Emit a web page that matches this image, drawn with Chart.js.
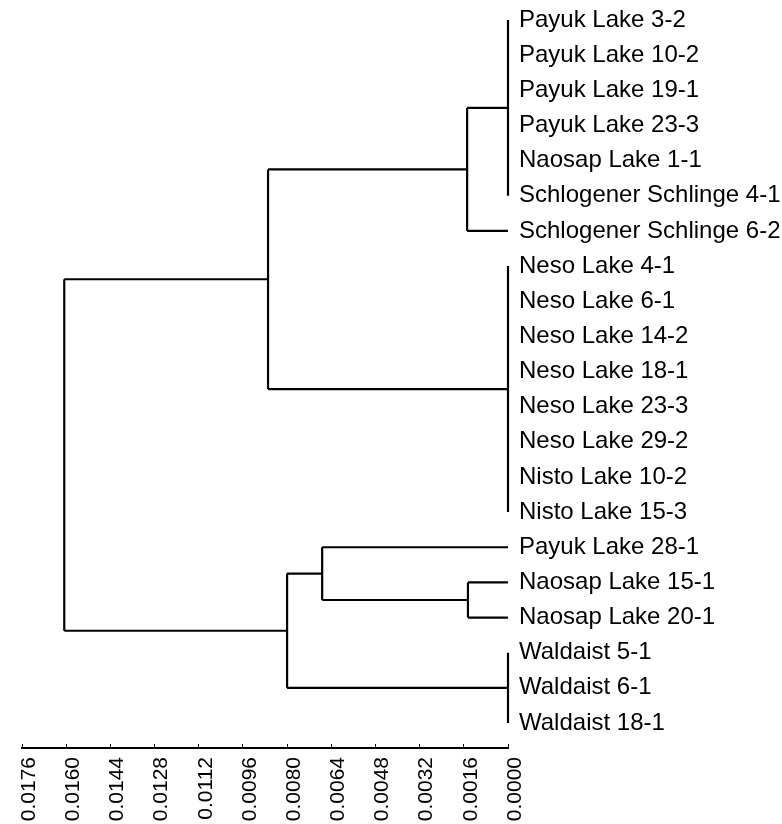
<!DOCTYPE html>
<html>
<head>
<meta charset="utf-8">
<script src="https://cdn.jsdelivr.net/npm/chart.js@4.4.1/dist/chart.umd.min.js"></script>
<style>
  html, body { margin: 0; padding: 0; background: #fff; }
  #wrap { width: 782px; height: 824px; }
</style>
</head>
<body>
<div id="wrap"><canvas id="dendro"></canvas></div>
<script>
// leaves in the order they are drawn, top to bottom
const leafNames = [
    'Payuk Lake 3-2', 'Payuk Lake 10-2', 'Payuk Lake 19-1', 'Payuk Lake 23-3',
    'Naosap Lake 1-1', 'Schlogener Schlinge 4-1', 'Schlogener Schlinge 6-2',
    'Neso Lake 4-1', 'Neso Lake 6-1', 'Neso Lake 14-2', 'Neso Lake 18-1',
    'Neso Lake 23-3', 'Neso Lake 29-2', 'Nisto Lake 10-2', 'Nisto Lake 15-3',
    'Payuk Lake 28-1', 'Naosap Lake 15-1', 'Naosap Lake 20-1',
    'Waldaist 5-1', 'Waldaist 6-1', 'Waldaist 18-1'
];

// merges: children refer to leaves (0..20) or earlier merges (21, 22, ...)
const mergeChildren = [
    [0, 1, 2, 3, 4, 5],
    [21, 6],
    [7, 8, 9, 10, 11, 12, 13, 14],
    [22, 23],
    [16, 17],
    [15, 25],
    [18, 19, 20],
    [26, 27],
    [24, 28]
];
const mergeHeights = [0, 0.00148, 0, 0.00869, 0.00145, 0.00673, 0, 0.00800, 0.01607];

const tickValues = [0.0176, 0.0160, 0.0144, 0.0128, 0.0112, 0.0096, 0.0080,
                    0.0064, 0.0048, 0.0032, 0.0016, 0.0000];

// build line segments of the tree
const nodeY = leafNames.map((_, i) => i);
const nodeH = leafNames.map(() => 0);
const segments = [];
mergeChildren.forEach((kids, m) => {
    const h = mergeHeights[m];
    const ys = kids.map(k => nodeY[k]);
    const lo = Math.min(...ys), hi = Math.max(...ys);
    segments.push([{ x: h, y: lo }, { x: h, y: hi }]);
    kids.forEach(k => {
        if (nodeH[k] !== h) segments.push([{ x: h, y: nodeY[k] }, { x: nodeH[k], y: nodeY[k] }]);
    });
    nodeY.push((lo + hi) / 2);
    nodeH.push(h);
});

Chart.defaults.color = '#000';
Chart.defaults.font.family = "'Liberation Sans', Arial, sans-serif";

// no automatic padding for the outer tick labels
const noPad = sc => {
    sc.paddingTop = 0; sc.paddingBottom = 0;
    sc.paddingLeft = 0; sc.paddingRight = 0;
};

new Chart(document.getElementById('dendro'), {
    type: 'scatter',
    data: {
        datasets: segments.map(s => ({
            data: s,
            showLine: true,
            borderColor: '#000',
            borderWidth: 2.2,
            pointRadius: 0,
            clip: false
        }))
    },
    options: {
        responsive: true,
        maintainAspectRatio: false,
        animation: false,
        layout: { padding: { left: 22, top: 0, right: 0, bottom: 0 } },
        plugins: { legend: { display: false }, tooltip: { enabled: false } },
        scales: {
            x: {
                type: 'linear',
                position: 'bottom',
                reverse: true,
                min: 0,
                max: 0.0176,
                afterBuildTicks: sc => { sc.ticks = tickValues.map(v => ({ value: v })); },
                afterFit: sc => { sc.height = 76; noPad(sc); },
                grid: { display: true, drawOnChartArea: false, drawTicks: true, tickLength: -4, color: '#000', lineWidth: 1 },
                border: { display: true, color: '#000', width: 2 },
                ticks: {
                    minRotation: 90,
                    maxRotation: 90,
                    padding: 13,
                    labelOffset: 7,
                    font: { size: 21 },
                    callback: v => Number(v).toFixed(4)
                }
            },
            y: {
                type: 'linear',
                position: 'right',
                reverse: true,
                min: -0.569,
                max: 20.711,
                afterBuildTicks: sc => { sc.ticks = leafNames.map((_, i) => ({ value: i })); },
                afterFit: sc => { sc.width = 274; noPad(sc); },
                grid: { display: false, drawTicks: false },
                border: { display: false },
                ticks: {
                    padding: 11,
                    font: { size: 24 },
                    callback: v => leafNames[v]
                }
            }
        }
    }
});
</script>
</body>
</html>
